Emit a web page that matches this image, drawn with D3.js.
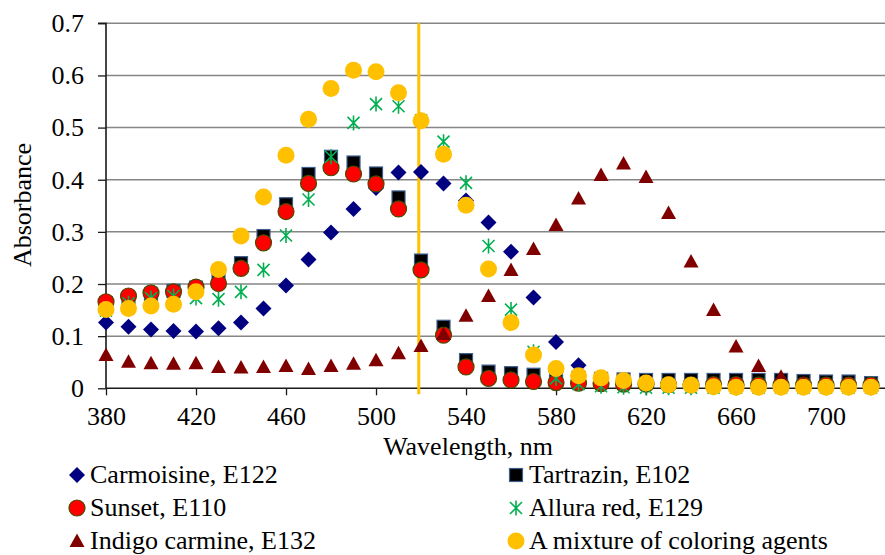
<!DOCTYPE html>
<html>
<head>
<meta charset="utf-8">
<script src="https://cdn.jsdelivr.net/npm/d3@7.9.0/dist/d3.min.js"></script>
<style>
  body { margin: 0; background: #fff; }
  svg text { font-family: 'Liberation Serif', 'DejaVu Serif', 'Times New Roman', serif; fill: #000; }
</style>
</head>
<body>
<svg id="chart" width="885" height="555"></svg>
<script>
const wavelengths = [380, 390, 400, 410, 420, 430, 440, 450, 460, 470, 480, 490, 500, 510, 520, 530, 540, 550, 560, 570, 580, 590, 600, 610, 620, 630, 640, 650, 660, 670, 680, 690, 700, 710, 720];

const carmoisine = [0.126, 0.118, 0.113, 0.110, 0.109, 0.115, 0.126, 0.153, 0.197, 0.247, 0.299, 0.344, 0.384, 0.414, 0.415, 0.393, 0.360, 0.318, 0.262, 0.174, 0.089, 0.044, 0.018, 0.010, 0.006, 0.004, 0.003, 0.003, 0.002, 0.002, 0.002, 0.002, 0.002, 0.002, 0.002];
const tartrazin = [0.163, 0.172, 0.180, 0.187, 0.193, 0.210, 0.240, 0.292, 0.353, 0.411, 0.444, 0.433, 0.412, 0.366, 0.245, 0.118, 0.054, 0.032, 0.029, 0.026, 0.022, 0.020, 0.018, 0.017, 0.016, 0.016, 0.016, 0.016, 0.016, 0.016, 0.016, 0.014, 0.013, 0.013, 0.010];
const sunset = [0.166, 0.177, 0.183, 0.185, 0.194, 0.201, 0.230, 0.279, 0.339, 0.393, 0.423, 0.411, 0.392, 0.344, 0.227, 0.102, 0.041, 0.019, 0.016, 0.013, 0.011, 0.010, 0.009, 0.008, 0.008, 0.007, 0.007, 0.007, 0.007, 0.006, 0.006, 0.006, 0.006, 0.006, 0.006];
const allura = [0.149, 0.163, 0.173, 0.177, 0.173, 0.171, 0.185, 0.227, 0.293, 0.362, 0.444, 0.509, 0.545, 0.541, 0.514, 0.473, 0.394, 0.273, 0.151, 0.070, 0.019, 0.008, 0.004, 0.002, 0.001, 0.001, 0.001, 0.001, 0.001, 0.001, 0.001, 0.001, 0.001, 0.001, 0.001];
const indigo = [0.064, 0.051, 0.048, 0.047, 0.048, 0.041, 0.040, 0.041, 0.043, 0.037, 0.043, 0.047, 0.054, 0.067, 0.081, 0.104, 0.139, 0.177, 0.227, 0.267, 0.313, 0.364, 0.409, 0.431, 0.405, 0.336, 0.243, 0.150, 0.080, 0.043, 0.022, 0.010, 0.007, 0.006, 0.005];
const mixture = [0.151, 0.153, 0.158, 0.161, 0.185, 0.228, 0.292, 0.367, 0.447, 0.516, 0.575, 0.610, 0.607, 0.567, 0.513, 0.449, 0.351, 0.229, 0.126, 0.064, 0.038, 0.024, 0.020, 0.015, 0.010, 0.007, 0.006, 0.003, 0.002, 0.002, 0.002, 0.002, 0.002, 0.002, 0.002];

const xTicks = [380, 420, 460, 500, 540, 580, 620, 660, 700];
const yTicks = [0, 0.1, 0.2, 0.3, 0.4, 0.5, 0.6, 0.7];
const markerLine = 519;

const series = [
  { name: 'Carmoisine, E122', values: carmoisine, shape: 'diamond', fill: '#000080', stroke: 'none' },
  { name: 'Tartrazin, E102', values: tartrazin, shape: 'square', fill: '#000000', stroke: '#3d5f8f' },
  { name: 'Sunset, E110', values: sunset, shape: 'circle', fill: '#ff0000', stroke: '#4a4a00' },
  { name: 'Allura red, E129', values: allura, shape: 'star', fill: 'none', stroke: '#00b050' },
  { name: 'Indigo carmine, E132', values: indigo, shape: 'triangle', fill: '#800000', stroke: 'none' },
  { name: 'A mixture of coloring agents', values: mixture, shape: 'circle', fill: '#ffc000', stroke: 'none', r: 8.5 }
];

const serif = 'Liberation Serif, DejaVu Serif, serif';
const svg = d3.select('#chart');
const plotLeft = 106, plotRight = 885, plotTop = 23.3, plotBottom = 388.3;

const x = d3.scaleLinear().domain([380, 726.2]).range([plotLeft, plotRight]);
const y = d3.scaleLinear().domain([0, 0.7]).range([plotBottom, plotTop]);

// gridlines
svg.append('g')
  .selectAll('line')
  .data(yTicks.filter(d => d > 0))
  .join('line')
  .attr('x1', plotLeft).attr('x2', plotRight)
  .attr('y1', d => y(d)).attr('y2', d => y(d))
  .attr('stroke', '#868686')
  .attr('stroke-width', 1.5);

// axes
const yAxis = svg.append('g')
  .attr('transform', `translate(${plotLeft},0)`)
  .call(d3.axisLeft(y).tickValues(yTicks).tickSize(8).tickPadding(14).tickFormat(d3.format('')));
const xAxis = svg.append('g')
  .attr('transform', `translate(0,${plotBottom})`)
  .call(d3.axisBottom(x).tickValues(xTicks).tickSize(7).tickPadding(11).tickSizeOuter(0));

[yAxis, xAxis].forEach(a => {
  a.attr('font-family', serif).attr('font-size', 26);
  a.select('.domain').attr('stroke', '#1a1a1a').attr('stroke-width', 1.6);
  a.selectAll('.tick line').attr('stroke', '#1a1a1a').attr('stroke-width', 1.3);
  a.selectAll('.tick text')
    .attr('font-size', 26)
    .attr('font-family', serif)
    .attr('fill', '#000');
});
yAxis.select('.domain').attr('d', `M-8,${plotTop}H0V${plotBottom}`);
xAxis.select('.domain').attr('d', `M${plotLeft},0H${plotRight}`);

// vertical reference line
svg.append('line')
  .attr('x1', x(markerLine)).attr('x2', x(markerLine))
  .attr('y1', plotTop).attr('y2', plotBottom + 6)
  .attr('stroke', '#ffc000')
  .attr('stroke-width', 3);

function drawMarker(g, s) {
  if (s.shape === 'circle') {
    g.append('circle').attr('r', s.r || 8).attr('fill', s.fill)
      .attr('stroke', s.stroke).attr('stroke-width', 1.2);
  } else if (s.shape === 'square') {
    g.append('rect').attr('x', -6.5).attr('y', -6.5).attr('width', 13).attr('height', 13)
      .attr('fill', s.fill).attr('stroke', s.stroke).attr('stroke-width', 1.2);
  } else if (s.shape === 'diamond') {
    g.append('path').attr('d', 'M0,-8L8,0L0,8L-8,0Z').attr('fill', s.fill);
  } else if (s.shape === 'triangle') {
    g.append('path').attr('d', 'M0,-7.5L7.5,6L-7.5,6Z').attr('fill', s.fill);
  } else if (s.shape === 'star') {
    g.append('path').attr('d', 'M-6,-6L6,6M-6,6L6,-6M0,-7.5V7.5')
      .attr('stroke', s.stroke).attr('stroke-width', 1.6).attr('fill', 'none');
  }
}

// points
series.forEach(s => {
  svg.append('g')
    .selectAll('g')
    .data(s.values.map((v, i) => ({ wl: wavelengths[i], v })))
    .join('g')
    .attr('transform', d => `translate(${x(d.wl)},${y(d.v)})`)
    .each(function () { drawMarker(d3.select(this), s); });
});

// axis titles
svg.append('text')
  .attr('x', 468).attr('y', 455)
  .attr('text-anchor', 'middle')
  .attr('font-family', serif)
  .attr('font-size', 26)
  .text('Wavelength, nm');

svg.append('text')
  .attr('transform', 'translate(31,205) rotate(-90)')
  .attr('text-anchor', 'middle')
  .attr('font-family', serif)
  .attr('font-size', 26)
  .text('Absorbance');

// legend
const legendCols = [77, 516];
const legendRows = [475, 508, 541];
series.forEach((s, i) => {
  const cx = legendCols[i % 2];
  const cy = legendRows[Math.floor(i / 2)];
  const g = svg.append('g').attr('transform', `translate(${cx},${cy})`);
  drawMarker(g, s);
  svg.append('text')
    .attr('x', cx + 13).attr('y', cy + 8)
    .attr('font-family', serif)
    .attr('font-size', 26)
    .text(s.name);
});
</script>
</body>
</html>
